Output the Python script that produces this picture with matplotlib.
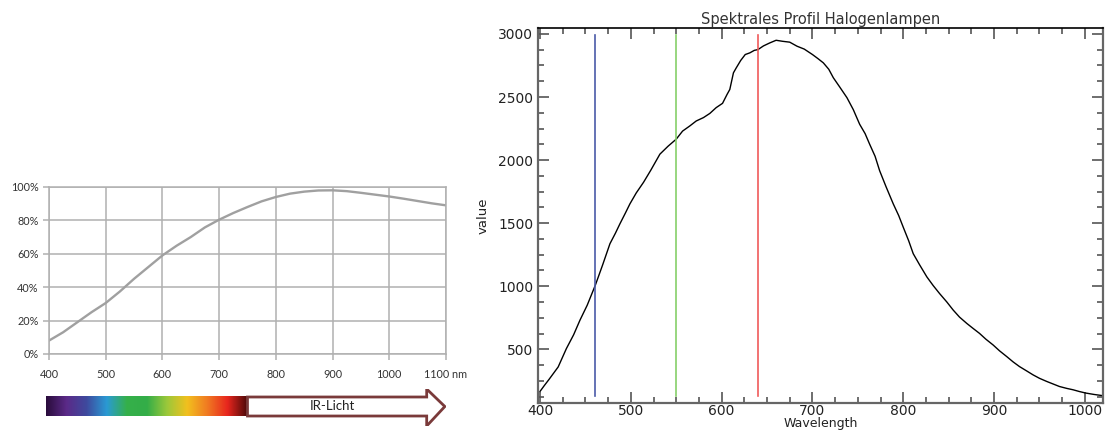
import matplotlib

matplotlib.use("Agg")
import matplotlib.pyplot as plt
import numpy as np
from matplotlib.colors import LinearSegmentedColormap
from matplotlib.patches import Polygon
from matplotlib.ticker import MultipleLocator


# left chart: relative sensitivity vs wavelength
sens_wl = [400, 425, 450, 475, 500, 525, 550, 575, 600, 625, 650, 675, 700, 725, 750,
           775, 800, 825, 850, 875, 900, 925, 950, 975, 1000, 1025, 1050, 1075, 1100]
sens_pct = [8, 13, 19, 25, 30.5, 37.4, 45, 52, 59, 64.8, 70, 75.8, 80.4, 84.4, 88,
            91.4, 94, 96, 97.2, 97.9, 98, 97.5, 96.5, 95.4, 94.3, 93, 91.6, 90.2, 89]
sens_yticks = [0, 20, 40, 60, 80, 100]
sens_xticks = [400, 500, 600, 700, 800, 900, 1000, 1100]
sens_xlabels = ["400", "500", "600", "700", "800", "900", "1000", "1100 nm"]

# spectrum bar colours (visible part) and the IR arrow
spec_colors = ["#2a0c3c", "#5b2a88", "#3e4a9e", "#2a9ad4", "#35b04a", "#33ad48",
               "#9cc83a", "#f2c01e", "#f07a22", "#e8261e", "#4a0808"]
spec_range = [395, 750]
ir_label = "IR-Licht"

# right chart: spectral profile of halogen lamp
halo_wl = [400, 405, 410, 415, 420, 429, 437, 444, 452, 461, 469, 477, 483, 488,
           494, 499, 506, 514, 522, 532, 541, 550, 557, 565, 572, 580, 587, 594,
           601, 606, 609, 613, 616, 621, 626, 631, 636, 640, 646, 653, 660, 667,
           675, 683, 691, 700, 706, 712, 718, 723, 730, 738, 745, 752, 758, 763,
           769, 774, 781, 789, 795, 800, 806, 811, 818, 826, 833, 840, 848, 855,
           862, 870, 877, 884, 891, 899, 906, 914, 921, 928, 936, 943, 950, 958,
           965, 972, 980, 987, 994, 1001, 1010, 1020]
halo_val = [166, 215, 262, 311, 360, 505, 615, 731, 850, 1010, 1170, 1337, 1420, 1495,
            1580, 1653, 1740, 1824, 1920, 2047, 2110, 2166, 2230, 2271, 2310, 2337, 2370, 2416,
            2450, 2521, 2560, 2692, 2730, 2790, 2837, 2850, 2870, 2876, 2905, 2929, 2950, 2942,
            2935, 2903, 2880, 2837, 2805, 2771, 2720, 2653, 2580, 2495, 2400, 2284, 2210, 2126,
            2030, 1916, 1790, 1653, 1560, 1468, 1360, 1258, 1170, 1074, 1005, 942, 875, 811,
            755, 705, 665, 626, 580, 534, 488, 442, 400, 363, 328, 297, 270, 245,
            225, 205, 190, 179, 165, 153, 142, 132]
marker_wl = [461, 550, 640]
marker_colors = ["#4a5aa8", "#86cf6a", "#f05a5a"]

fig = plt.figure(figsize=(11.05, 4.32), dpi=100)

# ---- left chart
ax1 = fig.add_axes([0.0443, 0.1806, 0.3593, 0.3866])
ax1.plot(sens_wl, sens_pct, color="#a0a0a0", lw=1.7)
ax1.set_xlim(400, 1100)
ax1.set_ylim(0, 100)
ax1.set_xticks(sens_xticks)
ax1.set_xticklabels(sens_xlabels, family="Lato")
ax1.set_yticks(sens_yticks)
ax1.set_yticklabels([f"{v}%" for v in sens_yticks], family="Lato")
ax1.grid(True, color="#b0b0b0", lw=1.1)
for s in ax1.spines.values():
    s.set_color("#b0b0b0")
    s.set_linewidth(1.1)
ax1.tick_params(colors="#b0b0b0", labelcolor="#333333", labelsize=7.8, length=4, width=1.1)
ax1.tick_params(axis="x", pad=7)
ax1.set_axisbelow(True)

# spectrum bar + IR arrow
ax2 = fig.add_axes([0.0416, 0.0139, 0.362, 0.0856])
ax2.set_xlim(394.7, 1100)
ax2.set_ylim(0, 1)
ax2.axis("off")
cmap = LinearSegmentedColormap.from_list("spec", spec_colors)
ax2.imshow(np.linspace(0, 1, 256)[None, :], cmap=cmap, aspect="auto",
           extent=[spec_range[0], spec_range[1], 0.27, 0.784])
arrow = Polygon([[spec_range[1], 0.27], [1066, 0.27], [1066, 0.0], [1098, 0.527],
                 [1066, 1.0], [1066, 0.784], [spec_range[1], 0.784]],
                closed=True, facecolor="white", edgecolor="#7a3a3a", lw=2)
ax2.add_patch(arrow)
ax2.text(900, 0.53, ir_label, fontsize=9.5, color="#222222", ha="center", va="center",
         family="Lato")

# ---- right chart
ax3 = fig.add_axes([0.4869, 0.0671, 0.5113, 0.868])
ax3.plot(halo_wl, halo_val, color="black", lw=1)
for wl, c in zip(marker_wl, marker_colors):
    ax3.plot([wl, wl], [126, 2992], color=c, lw=1.2)
ax3.set_xlim(397.8, 1020)
ax3.set_ylim(74, 3047)
ax3.xaxis.set_major_locator(MultipleLocator(100))
ax3.xaxis.set_minor_locator(MultipleLocator(25))
ax3.yaxis.set_major_locator(MultipleLocator(500))
ax3.yaxis.set_minor_locator(MultipleLocator(125))
ax3.tick_params(which="both", direction="in", top=True, right=True,
                color="#555555", labelsize=10, labelcolor="#222222")
ax3.tick_params(which="major", length=8, width=1.2)
ax3.tick_params(which="minor", length=4, width=1.2)
ax3.tick_params(axis="x", pad=1)
for s in ax3.spines.values():
    s.set_color("#666666")
    s.set_linewidth(1.6)
ax3.spines["top"].set_color("black")
ax3.spines["top"].set_linewidth(1.2)
ax3.set_title("Spektrales Profil Halogenlampen", fontsize=10.5, color="#333333", pad=3)
ax3.set_xlabel("Wavelength", fontsize=9, color="#222222", labelpad=-1)
ax3.set_ylabel("value", fontsize=9.5, color="#222222", labelpad=6)

fig.savefig("out.png", dpi=100)
